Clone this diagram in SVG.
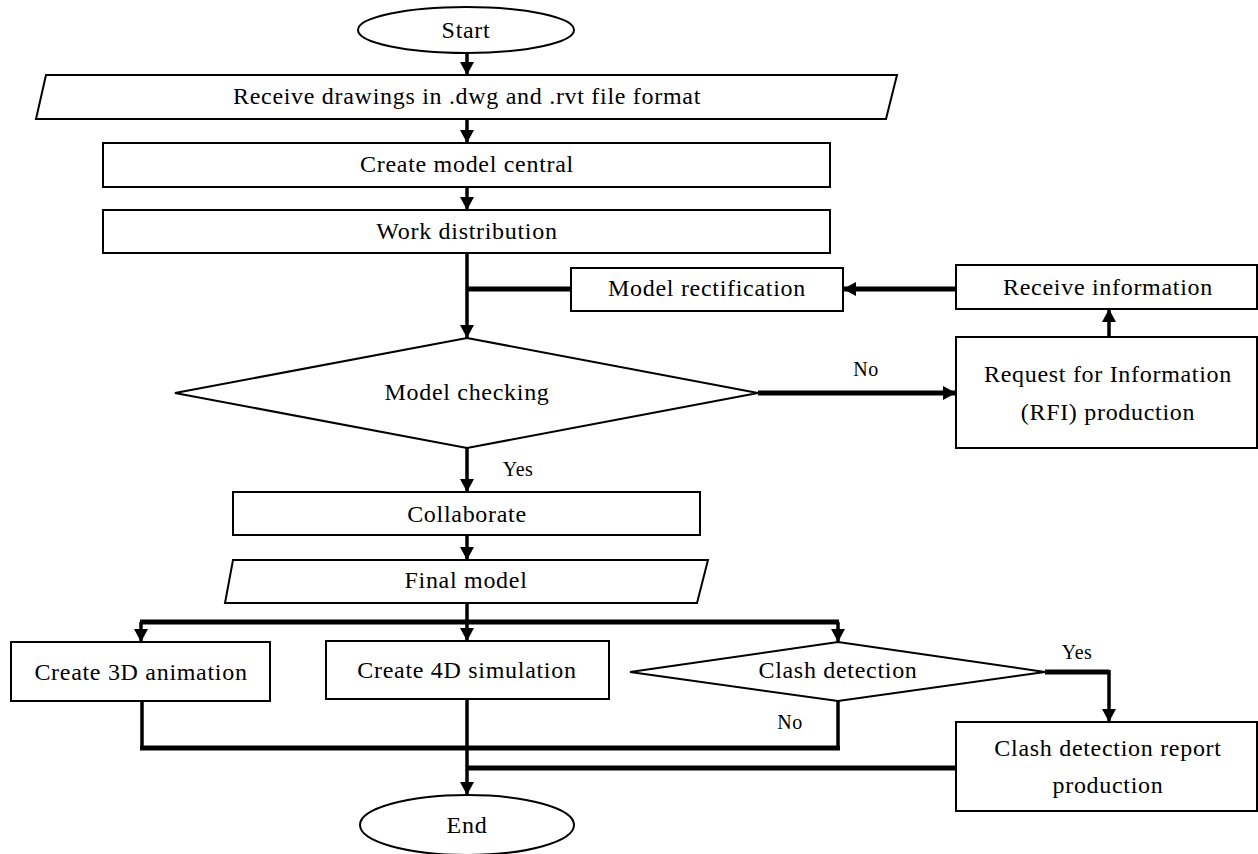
<svg xmlns="http://www.w3.org/2000/svg" width="1258" height="854" viewBox="0 0 1258 854">
<style>
.s{fill:#fff;stroke:#000;stroke-width:2}
.t{font-family:"Liberation Serif","Times New Roman",serif;font-size:24px;letter-spacing:0.7px;text-anchor:middle;fill:#000}
.l{font-family:"Liberation Serif","Times New Roman",serif;font-size:20px;letter-spacing:0.5px;text-anchor:middle;fill:#000}
.c{fill:none;stroke:#000;stroke-width:3.5}
.k{fill:none;stroke:#000;stroke-width:5}
</style>
<defs>
<marker id="a" markerUnits="userSpaceOnUse" markerWidth="14" markerHeight="14" refX="13" refY="7" orient="auto" viewBox="0 0 14 14">
<path d="M0,0 L13,7 L0,14 z" fill="#000"/>
</marker>
</defs>
<rect width="1258" height="854" fill="#fff"/>
<g id="connectors">
<path class="c" d="M467,53 V75" marker-end="url(#a)"/>
<path class="c" d="M467,119 V143" marker-end="url(#a)"/>
<path class="c" d="M467,187 V210" marker-end="url(#a)"/>
<path class="c" d="M467,253 V338" marker-end="url(#a)"/>
<path class="k" d="M571,289 H467"/>
<path class="k" d="M956,289 H843" marker-end="url(#a)"/>
<path class="c" d="M1109,337 V309" marker-end="url(#a)"/>
<path class="k" d="M758,393 H956" marker-end="url(#a)"/>
<path class="c" d="M467,448 V492" marker-end="url(#a)"/>
<path class="c" d="M467,535 V560" marker-end="url(#a)"/>
<path class="c" d="M467,603 V622"/>
<path class="k" d="M140,622 H839"/>
<path class="c" d="M141,622 V642" marker-end="url(#a)"/>
<path class="c" d="M467,622 V641" marker-end="url(#a)"/>
<path class="c" d="M838,622 V642" marker-end="url(#a)"/>
<path class="k" d="M1045,672 H1109"/>
<path class="c" d="M1109,670 V722" marker-end="url(#a)"/>
<path class="c" d="M142,701 V748"/>
<path class="c" d="M838,701 V748"/>
<path class="k" d="M140,748 H840"/>
<path class="c" d="M467,699 V795" marker-end="url(#a)"/>
<path class="k" d="M956,768 H467"/>
<text class="l" x="866" y="376">No</text>
<text class="l" x="518" y="476">Yes</text>
<text class="l" x="1077" y="659">Yes</text>
<text class="l" x="790" y="729">No</text>
</g>
<g id="start">
<ellipse class="s" cx="466" cy="30" rx="108" ry="23"/>
<text class="t" x="466" y="38">Start</text>
</g>
<g id="receive-drawings">
<polygon class="s" points="46,75 897,75 886,119 36,119"/>
<text class="t" x="467" y="104">Receive drawings in .dwg and .rvt file format</text>
</g>
<g id="create-model-central">
<rect class="s" x="103" y="143" width="727" height="44"/>
<text class="t" x="467" y="172">Create model central</text>
</g>
<g id="work-distribution">
<rect class="s" x="103" y="210" width="727" height="43"/>
<text class="t" x="467" y="239">Work distribution</text>
</g>
<g id="model-rectification">
<rect class="s" x="571" y="268" width="272" height="43"/>
<text class="t" x="707" y="296">Model rectification</text>
</g>
<g id="receive-information">
<rect class="s" x="956" y="265" width="301" height="44"/>
<text class="t" x="1108" y="295">Receive information</text>
</g>
<g id="rfi-production">
<rect class="s" x="956" y="337" width="301" height="111"/>
<text class="t" x="1108" y="382">Request for Information</text>
<text class="t" x="1108" y="420">(RFI) production</text>
</g>
<g id="model-checking">
<polygon class="s" points="467,338 758,393 467,448 175,393"/>
<text class="t" x="467" y="400">Model checking</text>
</g>
<g id="collaborate">
<rect class="s" x="233" y="492" width="467" height="43"/>
<text class="t" x="467" y="522">Collaborate</text>
</g>
<g id="final-model">
<polygon class="s" points="233,560 708,560 697,603 225,603"/>
<text class="t" x="466" y="588">Final model</text>
</g>
<g id="create-3d-animation">
<rect class="s" x="11" y="642" width="259" height="59"/>
<text class="t" x="141" y="680">Create 3D animation</text>
</g>
<g id="create-4d-simulation">
<rect class="s" x="326" y="641" width="283" height="58"/>
<text class="t" x="467" y="678">Create 4D simulation</text>
</g>
<g id="clash-detection">
<polygon class="s" points="838,642 1045,672 838,701 630,672"/>
<text class="t" x="838" y="678">Clash detection</text>
</g>
<g id="clash-report">
<rect class="s" x="956" y="722" width="301" height="89"/>
<text class="t" x="1108" y="756">Clash detection report</text>
<text class="t" x="1108" y="793">production</text>
</g>
<g id="end">
<ellipse class="s" cx="467" cy="825" rx="107" ry="30"/>
<text class="t" x="467" y="833">End</text>
</g>
</svg>
